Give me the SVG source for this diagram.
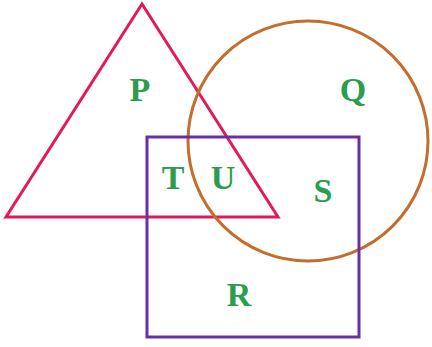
<svg xmlns="http://www.w3.org/2000/svg" width="432" height="347" viewBox="0 0 432 347">
<style>
.lbl{font-family:"Liberation Serif","Times New Roman",serif;font-weight:bold;font-size:34px;fill:#2a9d4e;text-anchor:middle}
.shape{fill:none;stroke-width:3}
</style>
<rect width="432" height="347" fill="#ffffff"/>
<g id="triangle"><polygon class="shape" stroke="#e3195e" points="142,4 6,217 278,217"/></g>
<g id="circle"><circle class="shape" stroke="#c46d2c" cx="308" cy="141" r="120"/></g>
<g id="rectangle"><rect class="shape" stroke="#6b2fa3" x="147" y="137" width="212" height="200"/></g>
<g id="labels">
<text class="lbl" x="140" y="101">P</text>
<text class="lbl" x="353" y="101">Q</text>
<text class="lbl" x="173" y="189">T</text>
<text class="lbl" x="223" y="189">U</text>
<text class="lbl" x="323" y="202">S</text>
<text class="lbl" x="239" y="306">R</text>
</g>
</svg>
